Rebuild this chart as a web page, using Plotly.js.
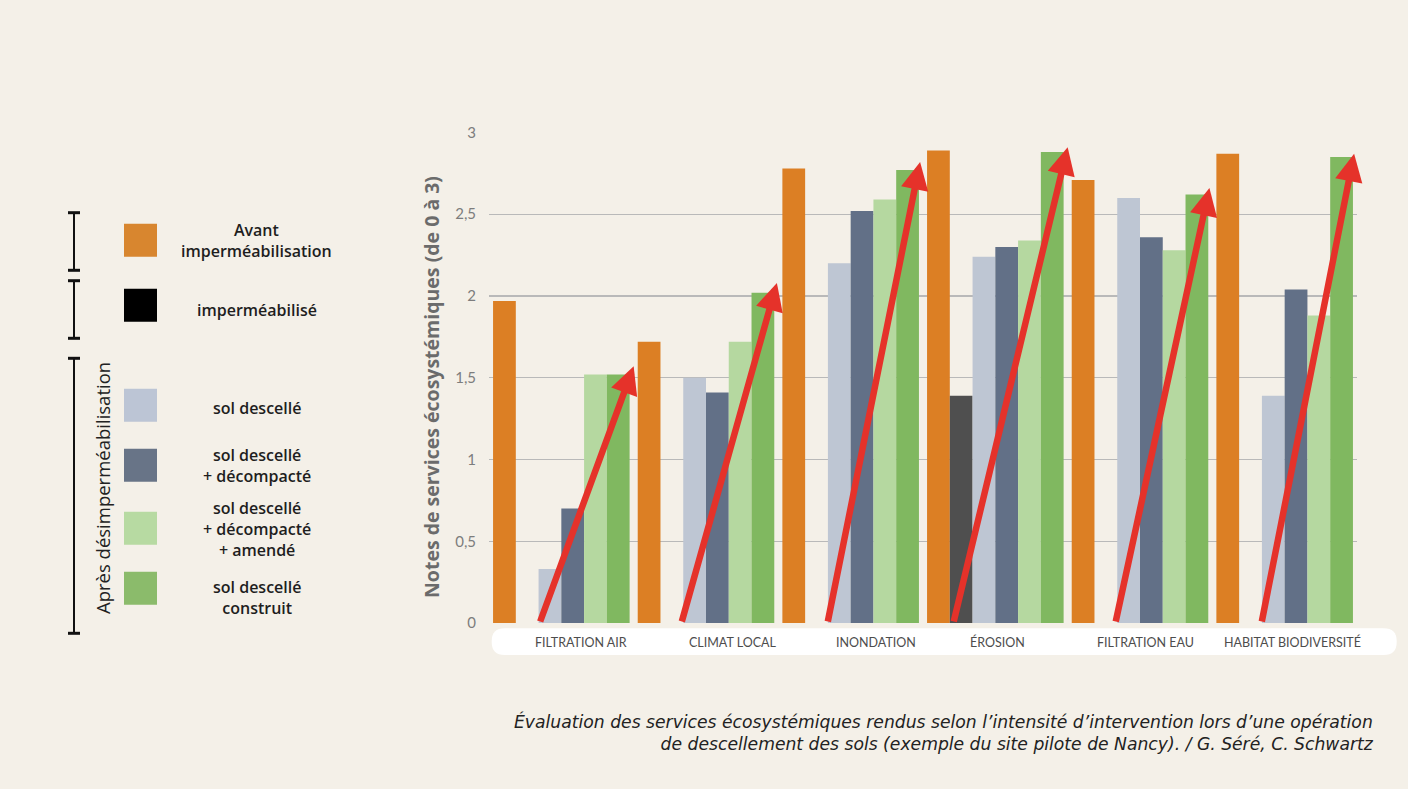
<!DOCTYPE html>
<html>
<head>
<meta charset="utf-8">
<script src="https://cdn.plot.ly/plotly-3.0.1.min.js"></script>
<style>
  html, body { margin: 0; padding: 0; background: #f4f0e8; }
  #chart { width: 1408px; height: 789px; }
</style>
</head>
<body>
<div id="chart"></div>
<script>
// ---------- DATA ----------
const categories = ['FILTRATION AIR', 'CLIMAT LOCAL', 'INONDATION', 'ÉROSION', 'FILTRATION EAU', 'HABITAT BIODIVERSITÉ'];
const seriesNames = ['Avant imperméabilisation', 'imperméabilisé', 'sol descellé', 'sol descellé + décompacté', 'sol descellé + décompacté + amendé', 'sol descellé construit'];
const avant = [1.97, 1.72, 2.78, 2.89, 2.71, 2.87];
const impermeabilise = [0, 0, 0, 1.39, 0, 0];
const descelle = [0.33, 1.50, 2.20, 2.24, 2.60, 1.39];
const decompacte = [0.70, 1.41, 2.52, 2.30, 2.36, 2.04];
const amende = [1.52, 1.72, 2.59, 2.34, 2.28, 1.88];
const construit = [1.52, 2.02, 2.77, 2.88, 2.62, 2.85];
const arrowTips = [1.57, 2.08, 2.82, 2.91, 2.66, 2.87];
const yTicks = [0, 0.5, 1, 1.5, 2, 2.5, 3];
const legendLabels = ['Avant<br>imperméabilisation', 'imperméabilisé', 'sol descellé', 'sol descellé<br>+ décompacté', 'sol descellé<br>+ décompacté<br>+ amendé', 'sol descellé<br>construit'];
const groupLabel = 'Après désimperméabilisation';
const yTitle = 'Notes de services écosystémiques (de 0 à 3)';
const caption = 'Évaluation des services écosystémiques rendus selon l’intensité d’intervention lors d’une opération<br>de descellement des sols (exemple du site pilote de Nancy). / G. Séré, C. Schwartz';

// ---------- STYLE / LAYOUT ----------
const barColors = ['#dc7f24', '#4f4f4f', '#bec6d3', '#627087', '#b5d8a0', '#80b860'];
const swatchColors = ['#d8862f', '#000000', '#bcc5d5', '#687487', '#b7daa2', '#8bbb6b'];
const seriesValues = [avant, impermeabilise, descelle, decompacte, amende, construit];

const L = 489, R = 1357, T = 132, B = 623;
const W = R - L, H = B - T;
const px = x => (x - L) / W;
const py = y => (B - y) / H;

const traces = seriesValues.map((vals, k) => ({
  type: 'bar',
  name: seriesNames[k],
  x: categories,
  y: vals,
  marker: { color: barColors[k] },
  hoverinfo: 'x+y+name'
}));

const shapes = [];
const annotations = [];

// white pill under the axis (pixel-sized, anchored at plot bottom-left)
(function () {
  const x0 = 2.7, x1 = 907.7, yt = -5.3, yb = -32, r = 13;
  shapes.push({
    type: 'path', xref: 'paper', yref: 'paper', xsizemode: 'pixel', ysizemode: 'pixel',
    xanchor: 0, yanchor: 0, layer: 'below',
    path: `M${x0 + r},${yt} L${x1 - r},${yt} Q${x1},${yt} ${x1},${yt - r} L${x1},${yb + r} Q${x1},${yb} ${x1 - r},${yb} L${x0 + r},${yb} Q${x0},${yb} ${x0},${yb + r} L${x0},${yt - r} Q${x0},${yt} ${x0 + r},${yt} Z`,
    fillcolor: '#ffffff', line: { width: 0 }
  });
})();

// category labels (offset from group centres as in the original)
const labelShift = [20, 26, 25, 2, 5, 8];
categories.forEach((c, i) => {
  annotations.push({
    xref: 'x', yref: 'paper', x: c, y: py(642), xshift: labelShift[i],
    text: c, showarrow: false, xanchor: 'center', yanchor: 'middle',
    font: { family: 'Lato, sans-serif', size: 12.5, color: '#4d4d4d' }
  });
});

// red arrows
const tailOff = [-0.15, -0.17, -0.16, -0.29, -0.17, -0.16];
const tipOff = [0.50, 0.49, 0.48, 0.50, 0.48, 0.48];
arrowTips.forEach((v, i) => {
  annotations.push({
    xref: 'x', yref: 'y', axref: 'x', ayref: 'y',
    x: i + tipOff[i], y: v, ax: i + tailOff[i], ay: 0,
    text: '', showarrow: true, arrowhead: 2, arrowsize: 0.85, arrowwidth: 6.5,
    arrowcolor: '#e5322a', standoff: 0
  });
});

// y-axis title
annotations.push({
  xref: 'paper', yref: 'paper', x: px(431), y: py(387), textangle: -90,
  text: yTitle, showarrow: false, xanchor: 'center', yanchor: 'middle',
  font: { family: 'Open Sans, sans-serif', size: 19.5, weight: 700, color: '#6b6b6b' }
});

// custom legend
const swatchCenters = [240.3, 305.3, 405.3, 465.3, 528.2, 588.3];
const textCenters = [240.3, 310, 408, 465.5, 529, 597];
legendLabels.forEach((t, k) => {
  shapes.push({
    type: 'rect', xref: 'paper', yref: 'paper',
    x0: px(124), x1: px(157), y0: py(swatchCenters[k] + 16.5), y1: py(swatchCenters[k] - 16.5),
    fillcolor: swatchColors[k], line: { width: 0 }
  });
  annotations.push({
    xref: 'paper', yref: 'paper', x: px(256.7), y: py(textCenters[k]),
    text: t, showarrow: false, xanchor: 'center', yanchor: 'middle', align: 'center',
    font: { family: 'Open Sans, sans-serif', size: 16, weight: 600, color: '#1e1e1e' }
  });
});

// brackets
[[212.7, 270.3], [280.7, 338.3], [358.3, 633.3]].forEach(([a, b]) => {
  shapes.push({ type: 'line', xref: 'paper', yref: 'paper', x0: px(74), x1: px(74), y0: py(a), y1: py(b), line: { color: '#111', width: 2 } });
  shapes.push({ type: 'line', xref: 'paper', yref: 'paper', x0: px(68), x1: px(80), y0: py(a), y1: py(a), line: { color: '#111', width: 3 } });
  shapes.push({ type: 'line', xref: 'paper', yref: 'paper', x0: px(68), x1: px(80), y0: py(b), y1: py(b), line: { color: '#111', width: 3 } });
});
annotations.push({
  xref: 'paper', yref: 'paper', x: px(102), y: py(488), textangle: -90,
  text: groupLabel, showarrow: false, xanchor: 'center', yanchor: 'middle',
  font: { family: 'Open Sans, sans-serif', size: 18.5, color: '#222' }
});

// caption
annotations.push({
  xref: 'paper', yref: 'paper', x: px(1376), y: py(732),
  text: caption, showarrow: false, xanchor: 'right', yanchor: 'middle', align: 'right',
  font: { family: 'DejaVu Sans, sans-serif', size: 17.2, style: 'italic', color: '#222' }
});

const layout = {
  width: 1408, height: 789,
  margin: { l: L, r: 1408 - R, t: T, b: 789 - B, pad: 0 },
  paper_bgcolor: '#f4f0e8',
  plot_bgcolor: 'rgba(0,0,0,0)',
  separators: ', ',
  barmode: 'group',
  bargap: 0.056,
  bargroupgap: 0,
  showlegend: false,
  xaxis: {
    type: 'category', range: [-0.5, 5.5], showticklabels: false, ticks: '',
    showgrid: false, zeroline: false, showline: false, fixedrange: true
  },
  yaxis: {
    range: [0, 3.003], tickvals: yTicks, ticks: '', ticklabelstandoff: 12,
    showgrid: true, gridcolor: '#b9b9b9', gridwidth: 1.2,
    zeroline: true, zerolinecolor: 'rgba(0,0,0,0)', showline: false,
    tickfont: { family: 'Lato, sans-serif', size: 15, color: '#7d7d7d' },
    fixedrange: true
  },
  shapes: shapes,
  annotations: annotations
};

Plotly.newPlot('chart', traces, layout, { displayModeBar: false, staticPlot: true });
</script>
</body>
</html>
